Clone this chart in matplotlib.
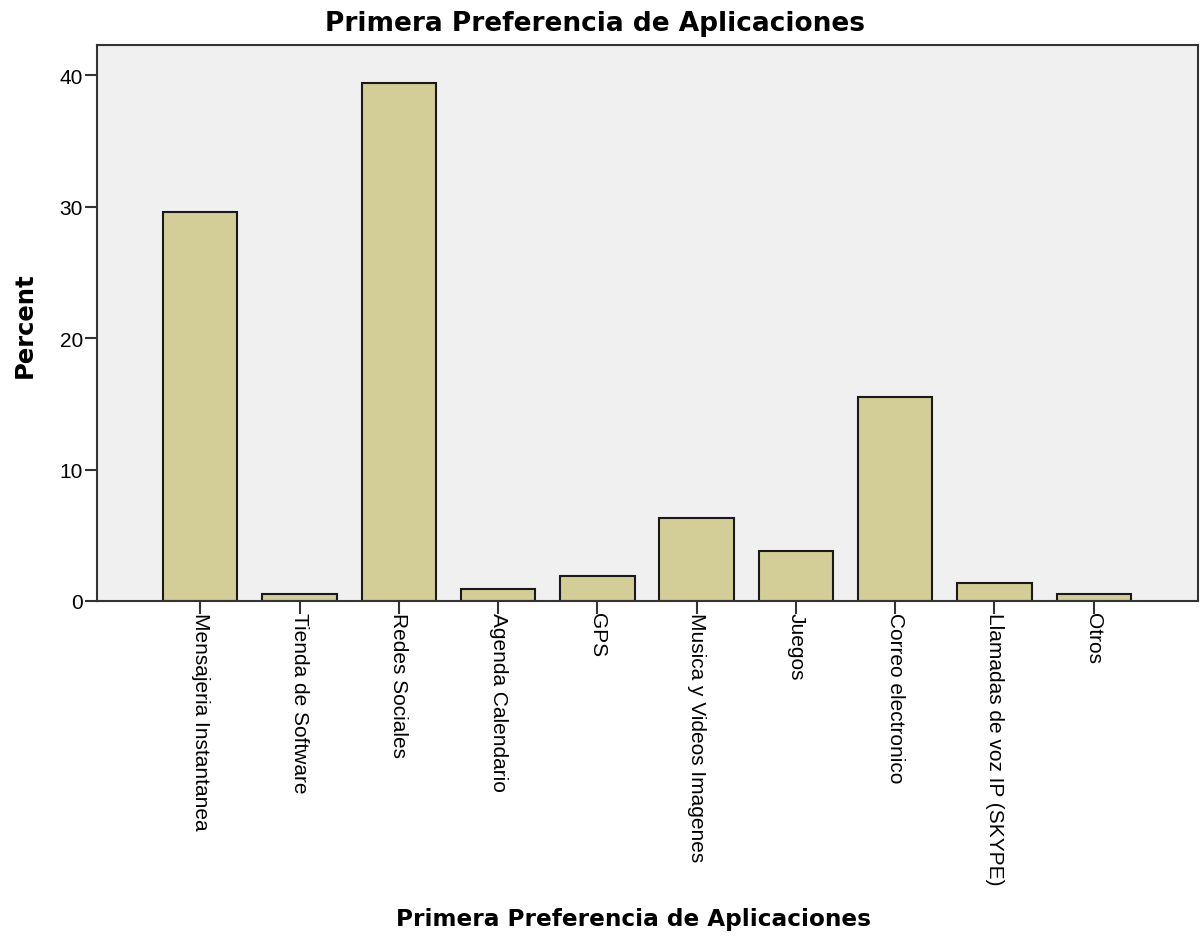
import matplotlib
matplotlib.use("Agg")
import matplotlib.pyplot as plt

categories = ["Mensajeria Instantanea", "Tienda de Software", "Redes Sociales",
              "Agenda Calendario", "GPS", "Musica y Videos Imagenes", "Juegos",
              "Correo electronico", "Llamadas de voz IP (SKYPE)", "Otros"]
percent = [29.6, 0.5, 39.4, 0.9, 1.9, 6.3, 3.8, 15.5, 1.4, 0.5]
yticks = [0, 10, 20, 30, 40]

plt.rcParams['font.family'] = ['Liberation Sans', 'DejaVu Sans']

W, H = 1202, 937
fig = plt.figure(figsize=(W/100, H/100), dpi=100)
ax = fig.add_axes([97/W, 1-602/H, (1198-97)/W, (602-46)/H])
ax.set_facecolor('#F0F0F0')
x = list(range(len(categories)))
ax.bar(x, percent, width=0.75, color='#D3CE97', edgecolor='#1a1a1a', linewidth=1.5, zorder=2)
ax.set_xlim(-1.04, len(categories) - 1 + 1.05)
ax.set_ylim(0, 42.3)
ax.set_yticks(yticks)
ax.set_yticklabels([str(v) for v in yticks], fontsize=15)
ax.set_xticks(x)
ax.set_xticklabels(categories, rotation=-90, fontsize=15, va='top', ha='center')
ax.tick_params(axis='both', direction='out', length=9, width=1.5, color='#333333')
ax.tick_params(axis='y', pad=1)
ax.tick_params(axis='x', pad=-1)
for s in ax.spines.values():
    s.set_color('#333333')
    s.set_linewidth(1.5)
fig.text(25/W, 1-325/H, 'Percent', rotation=90, ha='center', va='center',
         fontsize=17.5, fontweight='bold', family='DejaVu Sans')
fig.text(634/W, 1-920/H, 'Primera Preferencia de Aplicaciones', ha='center', va='center',
         fontsize=16.7, fontweight='bold', family='DejaVu Sans')
fig.text(595/W, 1-24/H, 'Primera Preferencia de Aplicaciones', ha='center', va='center',
         fontsize=19, fontweight='bold', family='DejaVu Sans')
fig.savefig('out.png', dpi=100)
